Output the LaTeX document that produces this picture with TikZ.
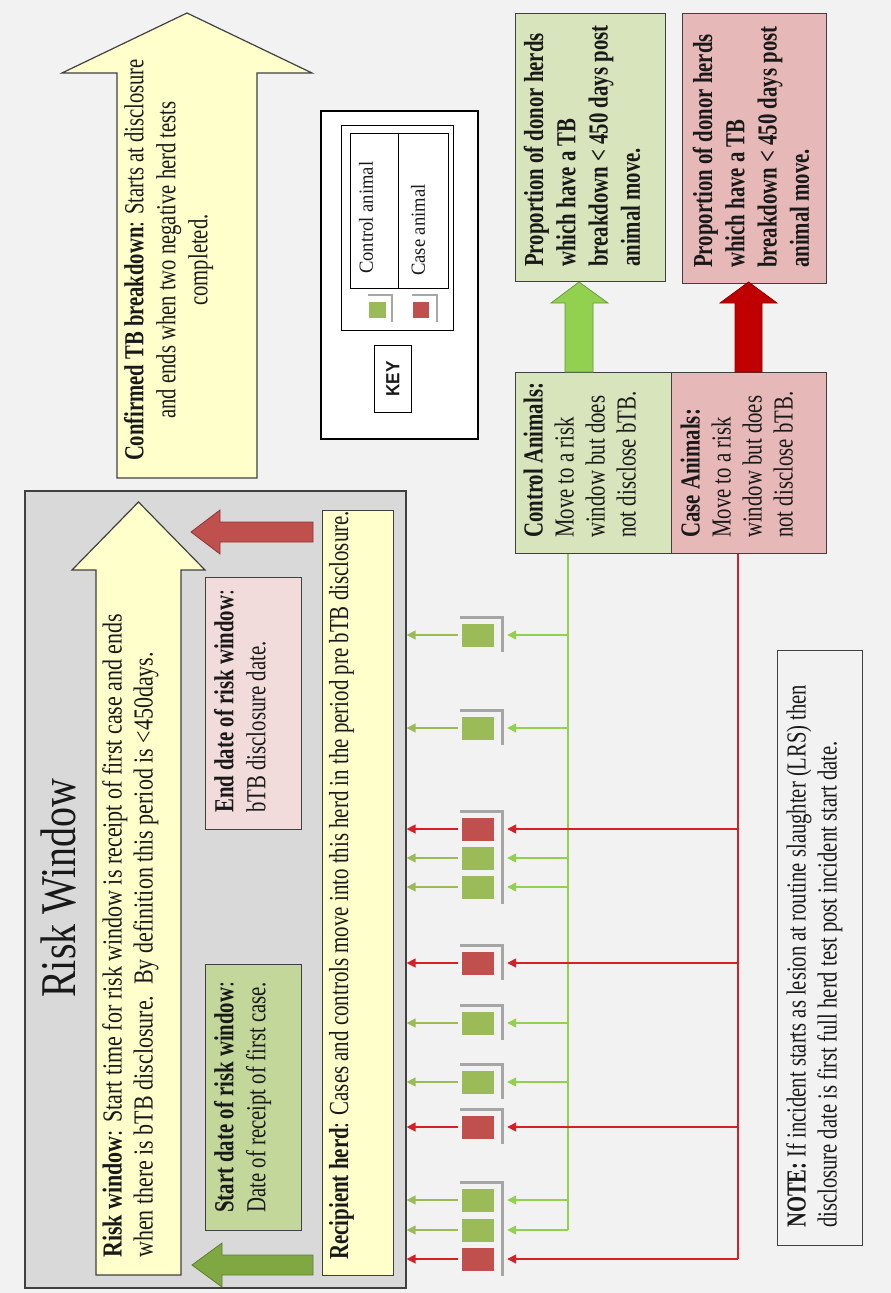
\documentclass[tikz,border=0pt]{standalone}
\usepackage{fontspec}
\setmainfont{Liberation Serif}
\newfontfamily\keyfont{Liberation Sans}
\usepackage{graphicx}
\usetikzlibrary{arrows.meta,calc}
\definecolor{bg}{HTML}{F2F2F2}
\definecolor{yel}{HTML}{FFFFCC}
\definecolor{rwgray}{HTML}{D9D9D9}
\definecolor{startG}{HTML}{C4D79B}
\definecolor{endP}{HTML}{F2DCDB}
\definecolor{resG}{HTML}{D8E4BC}
\definecolor{resR}{HTML}{E6B9B8}
\definecolor{bigG}{HTML}{92D050}
\definecolor{bigGd}{HTML}{6A9A3A}
\definecolor{bigR}{HTML}{C00000}
\definecolor{bigRd}{HTML}{8B0000}
\definecolor{smR}{HTML}{C0504D}
\definecolor{smRd}{HTML}{8C3836}
\definecolor{smG}{HTML}{7FA843}
\definecolor{smGd}{HTML}{5E7F2E}
\definecolor{sqG}{HTML}{9BBB59}
\definecolor{sqR}{HTML}{C0504D}
\definecolor{lnG}{HTML}{92D050}
\definecolor{lnGl}{HTML}{9BBB59}
\definecolor{lnR}{HTML}{D42027}
\definecolor{brk}{HTML}{A6A6A6}
\definecolor{bord}{HTML}{404040}
\newcommand{\RL}[4]{\rotatebox{90}{\scalebox{#1}[1]{\fontsize{#2pt}{#3pt}\selectfont\begin{tabular}{@{}l@{}}#4\end{tabular}}}}
\newcommand{\RC}[4]{\rotatebox{90}{\scalebox{#1}[1]{\fontsize{#2pt}{#3pt}\selectfont\begin{tabular}{@{}c@{}}#4\end{tabular}}}}
\begin{document}
\begin{tikzpicture}[x=1pt,y=-1pt,
  box/.style={draw=bord, line width=1.2pt, rectangle, inner sep=0pt, anchor=north west},
  txt/.style={inner sep=0pt, text=black!90},
  sqGs/.style={fill=sqG, minimum width=32pt, minimum height=23pt, inner sep=0pt},
  sqRs/.style={fill=sqR, minimum width=32pt, minimum height=23pt, inner sep=0pt},
  brkline/.style={draw=brk, line width=3pt},
  tip/.style={-{Triangle[length=9pt,width=9pt]}},
  arG/.style={tip, draw=lnG, line width=1.3pt},
  arGl/.style={tip, draw=lnGl, line width=1.3pt},
  arR/.style={tip, draw=lnR, line width=1.3pt},
  trunkG/.style={draw=lnG, line width=1.3pt},
  trunkR/.style={draw=lnR, line width=1.3pt}]
\useasboundingbox (0,0) rectangle (891,1293);
\fill[bg] (0,0) rectangle (891,1293);

% Confirmed TB breakdown arrow
\draw[fill=yel, draw=bord, line width=1.2pt] (117,478) -- (257,478) -- (257,73) -- (312,73) -- (187,13) -- (62,73) -- (117,73) -- cycle;
\node[txt] (tconf) at (169,260) {\RC{0.75}{27.5}{32}{\textbf{Confirmed TB breakdown}: Starts at disclosure\\ and ends when two negative herd tests\\ completed.}};

% KEY
\node[box, draw=black, line width=2pt, fill=white, minimum width=157pt, minimum height=328pt] (key) at (320,110) {};
\node[box, draw=black, line width=0.9pt, minimum width=112pt, minimum height=205pt] (legend) at (341,125) {};
\node[box, draw=black, line width=0.9pt, minimum width=48pt, minimum height=155pt] (cellC) at (350,133) {};
\node[box, draw=black, line width=0.9pt, minimum width=50pt, minimum height=155pt] (cellK) at (398,133) {};
\node[box, draw=black, line width=0.9pt, minimum width=37pt, minimum height=67pt] (keybox) at (374,345) {};
\node[txt] (tkey) at (keybox.center) {\rotatebox{90}{\scalebox{0.9}[1]{\keyfont\bfseries\fontsize{19pt}{22pt}\selectfont KEY}}};
\node[txt, anchor=south] (tctl) at (368,274) {\RL{0.93}{20}{24}{Control animal}};
\node[txt, anchor=south] (tcas) at (420,276) {\RL{0.93}{20}{24}{Case animal}};
\node[fill=sqG, minimum width=17pt, minimum height=16pt, inner sep=0pt] (swG) at (377,310) {};
\node[fill=sqR, minimum width=16pt, minimum height=16pt, inner sep=0pt] (swR) at (421,310) {};
\draw[draw=brk, line width=2pt] (368,295) -- (392,295) -- (392,322);
\draw[draw=brk, line width=2pt] (412,295) -- (437,295) -- (437,322);

% Result boxes
\node[box, fill=resG, minimum width=150pt, minimum height=268pt] (resGbox) at (515,13) {};
\node[box, fill=resR, minimum width=144pt, minimum height=270pt] (resRbox) at (682,13) {};
\node[txt, anchor=south] (tresG) at (585,267) {\RL{0.756}{27.5}{32.3}{\textbf{Proportion of donor herds}\\ \textbf{which have a TB}\\ \textbf{breakdown < 450 days post}\\ \textbf{animal move.}}};
\node[txt, anchor=south] (tresR) at (754,268) {\RL{0.756}{27.5}{32.3}{\textbf{Proportion of donor herds}\\ \textbf{which have a TB}\\ \textbf{breakdown < 450 days post}\\ \textbf{animal move.}}};

% Control / Case boxes
\node[box, fill=resG, minimum width=156pt, minimum height=181pt] (ctrl) at (515,372) {};
\node[box, fill=resR, minimum width=155pt, minimum height=181pt] (case) at (671,372) {};
\node[txt, anchor=south] (tctrl) at (583,538) {\RL{0.756}{27.5}{31}{\textbf{Control Animals:}\\ Move to a risk\\ window but does\\ not disclose bTB.}};
\node[txt, anchor=south] (tcase) at (740,538) {\RL{0.756}{27.5}{31}{\textbf{Case Animals:}\\ Move to a risk\\ window but does\\ not disclose bTB.}};

% Big arrows
\draw[fill=bigG, draw=bigGd, line width=0.8pt] (565,372) -- (593,372) -- (593,303) -- (608,303) -- (579,282) -- (551,303) -- (565,303) -- cycle;
\draw[fill=bigR, draw=bigRd, line width=0.8pt] (735,372) -- (762,372) -- (762,303) -- (777,303) -- (748.5,282) -- (720,303) -- (735,303) -- cycle;

% Risk window
\node[box, fill=rwgray, draw=bord, line width=1.6pt, minimum width=381pt, minimum height=797pt] (rw) at (24,490) {};
\node[txt] (trw) at (64,888) {\RC{0.8}{50}{60}{Risk Window}};
\draw[fill=yel, draw=bord, line width=1.2pt] (96,1275) -- (181,1275) -- (181,570) -- (205,570) -- (138.5,502) -- (72,570) -- (96,570) -- cycle;
\node[txt, anchor=south] (trwtext) at (131,1258) {\RL{0.8}{27.5}{31}{\textbf{Risk window}: Start time for risk window is receipt of first case  and ends\\ when there is bTB disclosure.\ \ By definition this period is <450days.}};
\node[box, fill=startG, minimum width=96pt, minimum height=266pt] (startbox) at (205,964) {};
\node[txt, anchor=south] (tstart) at (243,1213) {\RL{0.756}{27.5}{32}{\textbf{Start date of risk window}:\\ Date of receipt of first case.}};
\node[box, fill=endP, minimum width=96pt, minimum height=252pt] (endbox) at (205,577) {};
\node[txt, anchor=south] (tend) at (243,813) {\RL{0.756}{27.5}{32}{\textbf{End date of risk window}:\\ bTB disclosure date.}};
\node[box, fill=yel, minimum width=71pt, minimum height=765pt] (recip) at (322,510) {};
\node[txt, anchor=south] (trecip) at (342,1260) {\RL{0.76}{27.5}{31}{\textbf{Recipient herd}: Cases and controls move into this herd in the period pre bTB disclosure.}};
% small block arrows
\draw[fill=smR, draw=smRd, line width=0.8pt] (313,522) -- (220,522) -- (220,510) -- (191,532) -- (220,554) -- (220,542) -- (313,542) -- cycle;
\draw[fill=smG, draw=smGd, line width=0.8pt] (313,1255) -- (222,1255) -- (222,1243) -- (192,1265) -- (222,1287) -- (222,1275) -- (313,1275) -- cycle;

% NOTE
\node[box, fill=bg, minimum width=85pt, minimum height=595pt] (note) at (777,650) {};
\node[txt, anchor=south] (tnote) at (815,1228) {\RL{0.75}{27.5}{31}{\textbf{NOTE:} If incident starts as lesion at routine slaughter (LRS) then\\ disclosure date is first full herd test post incident start date.}};

% animals
\node[sqGs] (a1) at (478,635) {};
\node[sqGs] (a2) at (478,728) {};
\node[sqRs] (a3) at (478,829) {};
\node[sqGs] (a4) at (478,858) {};
\node[sqGs] (a5) at (478,887) {};
\node[sqRs] (a6) at (478,963) {};
\node[sqGs] (a7) at (478,1023) {};
\node[sqGs] (a8) at (478,1082) {};
\node[sqRs] (a9) at (478,1127) {};
\node[sqGs] (a10) at (478,1200) {};
\node[sqGs] (a11) at (478,1230) {};
\node[sqRs] (a12) at (478,1259) {};
% brackets
\draw[brkline] (460,617) -- (502,617) -- (502,652);
\draw[brkline] (460,710) -- (502,710) -- (502,745);
\draw[brkline] (460,811) -- (502,811) -- (502,904);
\draw[brkline] (460,945) -- (502,945) -- (502,980);
\draw[brkline] (460,1005) -- (502,1005) -- (502,1040);
\draw[brkline] (460,1064) -- (502,1064) -- (502,1099);
\draw[brkline] (460,1109) -- (502,1109) -- (502,1144);
\draw[brkline] (460,1182) -- (502,1182) -- (502,1276);

% trunks
\coordinate (gtop) at ($(ctrl.south west)+(53,0)$);
\coordinate (rtop) at ($(case.south west)+(67,0)$);
\draw[trunkG] (gtop) -- (gtop |- a11);
\foreach \a in {a1,a2,a4,a5,a7,a8,a10,a11}{
  \draw[arG] (gtop |- \a) -- ([xshift=13pt]\a.east);
  \draw[arGl] ([xshift=-4pt]\a.west) -- (\a.west -| rw.east);
}
\draw[trunkR] (rtop) -- (rtop |- a12);
\foreach \a in {a3,a6,a9,a12}{
  \draw[arR] (rtop |- \a) -- ([xshift=13pt]\a.east);
  \draw[arR] ([xshift=-4pt]\a.west) -- (\a.west -| rw.east);
}
\end{tikzpicture}
\end{document}
